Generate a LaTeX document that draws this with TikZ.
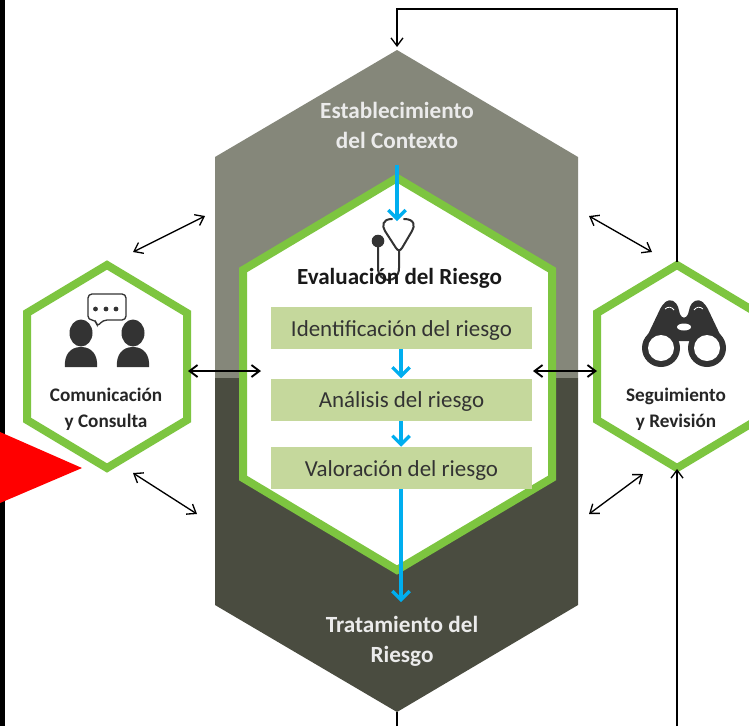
\documentclass[tikz,border=0pt]{standalone}
\usepackage{fontspec}
\setmainfont{Carlito}
\usetikzlibrary{arrows.meta}
\definecolor{ctxgray}{RGB}{133,135,122}
\definecolor{ctxdark}{RGB}{74,76,64}
\definecolor{hexgreen}{RGB}{125,197,64}
\definecolor{boxgreen}{RGB}{197,216,156}
\definecolor{flowblue}{RGB}{0,174,239}
\definecolor{icondark}{RGB}{51,51,51}
\newcommand{\steptext}[1]{\raisebox{0pt}[15pt][2.8pt]{#1}}
\tikzset{
  hexline/.style={draw=hexgreen,line width=6pt,fill=white,line join=miter},
  linkarrow/.style={draw=black,line width=1pt,{Straight Barb[length=6pt,width=9pt]}-{Straight Barb[length=6pt,width=9pt]}},
  sidearrow/.style={linkarrow,line width=1.4pt},
  feedline/.style={draw=black,line width=1pt,-{Straight Barb[length=6pt,width=9pt]}},
  flowarrow/.style={draw=flowblue,line width=2.4pt,-{Straight Barb[length=6.5pt,width=13pt]}},
  stepbox/.style={fill=boxgreen,minimum width=195.75pt,minimum height=31.5pt,inner sep=0pt,font=\fontsize{17.2}{20}\selectfont,text=black!80},
  whitelabel/.style={text=white!92!black,font=\fontsize{17.4}{22.5}\selectfont\bfseries,align=center,inner sep=0pt},
  iconlabel/.style={text=black!85,font=\fontsize{14.4}{19.5}\selectfont\bfseries,align=center,inner sep=0pt}
}
\begin{document}
\begin{tikzpicture}[x=0.75pt,y=0.75pt,yscale=-1,xscale=1]
\useasboundingbox (0,0) rectangle (749,726);
\clip (0,0) rectangle (749,726);
\fill[white] (0,0) rectangle (749,726);

%Shape: black margin
\fill[black] (0,0) rectangle (5,726);

%Shape: outer hexagon
\fill[ctxgray] (215,378) -- (215,157) -- (397,50) -- (578,157) -- (578,378) -- cycle;
\fill[ctxdark] (215,378) -- (215,605) -- (397,712) -- (578,605) -- (578,378) -- cycle;

%Shape: inner hexagon
\draw[hexline] (243,270) -- (397,178) -- (552,270) -- (552,478) -- (397,570) -- (243,478) -- cycle;

%Shape: side hexagons
\draw[hexline] (27,313) -- (107,265) -- (187,313) -- (187,420) -- (107,468) -- (27,420) -- cycle;
\draw[hexline] (597,313) -- (677,265) -- (757,313) -- (757,420) -- (677,468) -- (597,420) -- cycle;

%Shape: red marker
\fill[red] (0,432) -- (82,468) -- (0,503) -- cycle;

%Steps
\node[stepbox] (identifica) at (401.5,328) {\steptext{Identificación del riesgo}};
\node[stepbox] (analisis) at (401.5,399.5) {\steptext{Análisis del riesgo}};
\node[stepbox] (valora) at (401.5,468) {\steptext{Valoración del riesgo}};

%Stethoscope
\draw[icondark,line width=1.5pt,line cap=round] (392,219) .. controls (382,219) and (382,226) .. (385,231) -- (396,248) .. controls (398,251) and (400,251) .. (402,248) -- (412,231) .. controls (415,226) and (415,219) .. (404,219);
\draw[icondark,line width=1.5pt] (399,250) -- (399,268) .. controls (399,284) and (378,284) .. (378,268) -- (378,242);
\fill[icondark] (378,241) circle [radius=6.3];

%People
\fill[icondark] (81,333) ellipse [x radius=11.5, y radius=13.5];
\fill[icondark] (133,333) ellipse [x radius=11.5, y radius=13.5];
\fill[icondark] (65,367) .. controls (64,355) and (70,347) .. (81,347) .. controls (92,347) and (98,355) .. (97,367) -- cycle;
\fill[icondark] (117,367) .. controls (116,355) and (122,347) .. (133,347) .. controls (144,347) and (150,355) .. (149,367) -- cycle;
\draw[icondark,line width=1pt,fill=white,rounded corners=3pt] (88,294) -- (126,294) -- (126,320) -- (103,320) -- (97,327) -- (96,320) -- (88,320) -- cycle;
\foreach \dotx in {95.5,106,116}
  \fill[icondark] (\dotx,309) circle [radius=2.4];

%Binoculars
\fill[icondark,rounded corners=3pt] (643,345) -- (662,305) -- (669,299) -- (677,303) -- (681,318) -- (687,318) -- (691,303) -- (699,299) -- (706,305) -- (725,345) -- (707,341) -- (661,341) -- cycle;
\fill[icondark] (661,348) circle [radius=19];
\fill[icondark] (707,348) circle [radius=19];
\fill[white] (661,348) circle [radius=13];
\fill[white] (707,348) circle [radius=13];
\fill[white] (684,327) ellipse [x radius=7, y radius=3.5];
\draw[white,line width=0.6pt] (665,309) .. controls (668,306) and (672,307) .. (674,310);
\draw[white,line width=0.6pt] (694,310) .. controls (696,307) and (700,306) .. (703,309);

%Labels
\node[whitelabel] (contexto) at (397,125) {Establecimiento\\del Contexto};
\node[whitelabel] (tratamiento) at (402,641) {Tratamiento del\\Riesgo};
\node[text=black!90,font=\fontsize{17.3}{18}\selectfont\bfseries,inner sep=0pt] (evaluacion) at (399.5,278) {Evaluación del Riesgo};
\node[iconlabel] (comunica) at (106,409) {Comunicación\\y Consulta};
\node[iconlabel] (seguimiento) at (676,409) {Seguimiento\\y Revisión};

%Free ends
\coordinate (topturn) at (677,9);
\coordinate (topleft) at (397,9);
\coordinate (toptip) at (397,47);
\coordinate (seguitop) at (677,262);
\coordinate (seguibot) at (677,469);
\coordinate (bottomright) at (677,726);
\coordinate (bottomleft) at (397,726);
\coordinate (bottomhex) at (397,712);

%Feedback lines
\draw[feedline] (seguitop) -- (topturn) -- (topleft) -- (toptip);
\draw[feedline] (bottomright) -- (seguibot);
\draw[draw=black,line width=1pt] (bottomleft) -- (bottomhex);

%Double arrows
\draw[linkarrow] (133,252) -- (205,216);
\draw[linkarrow] (133,473) -- (197,514);
\draw[linkarrow] (589,216) -- (652,252);
\draw[linkarrow] (589,514) -- (643,474);
\draw[sidearrow] (188,371) -- (261,371);
\draw[sidearrow] (533,371) -- (597,371);

%Blue flow
\draw[flowarrow] (397,165) -- (397,221);
\draw[flowarrow] (identifica.south -| 401,0) -- (analisis.north -| 401,0);
\draw[flowarrow] (analisis.south -| 401,0) -- (valora.north -| 401,0);
\draw[flowarrow] (valora.south -| 401,0) -- (401,602);
\end{tikzpicture}
\end{document}
